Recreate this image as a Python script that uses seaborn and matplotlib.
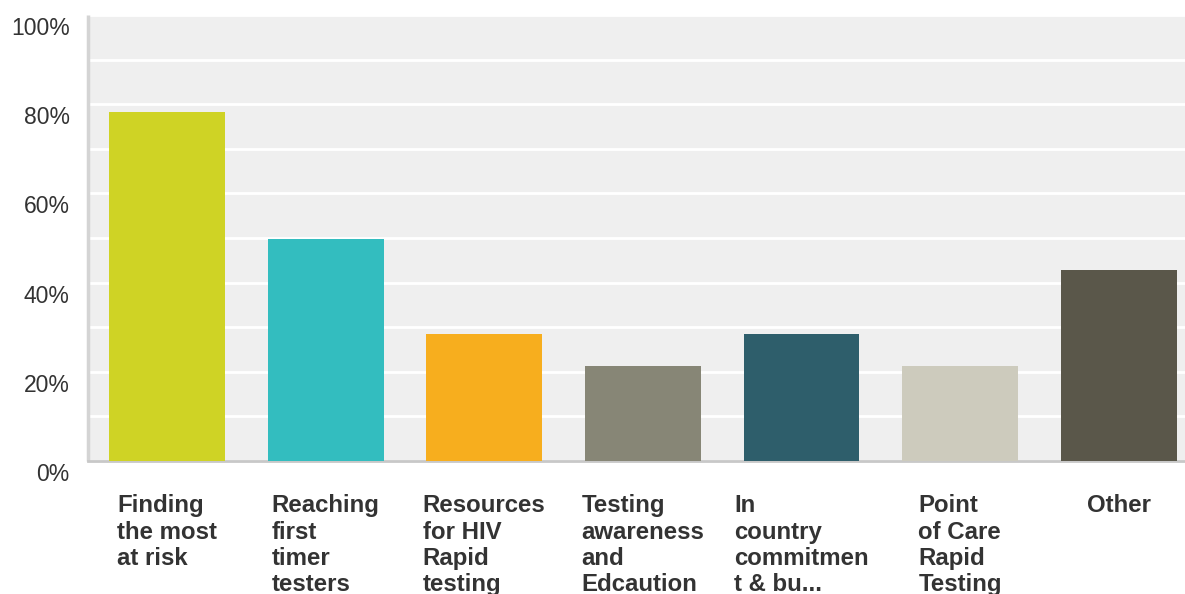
import matplotlib
matplotlib.use("Agg")
import matplotlib.pyplot as plt
import matplotlib.transforms as mtransforms
from matplotlib.ticker import MultipleLocator, FixedLocator
import seaborn as sns
import pandas as pd

categories = [
    "Finding\nthe most\nat risk",
    "Reaching\nfirst\ntimer\ntesters",
    "Resources\nfor HIV\nRapid\ntesting",
    "Testing\nawareness\nand\nEdcaution",
    "In\ncountry\ncommitmen\nt & bu...",
    "Point\nof Care\nRapid\nTesting",
    "Other",
]
values = [78.3, 49.7, 28.4, 21.3, 28.4, 21.3, 42.8]
colors = ["#cfd325", "#33bdbf", "#f7ae1e", "#878676", "#2e5e6b", "#cdcbbd", "#5a574a"]
y_ticks = [0, 20, 40, 60, 80, 100]
y_tick_labels = ["0%", "20%", "40%", "60%", "80%", "100%"]

df = pd.DataFrame({"cat": categories, "val": values})

sns.set_theme(style="white")
plt.rcParams["font.family"] = ["Liberation Sans", "DejaVu Sans"]

W, H = 1185, 594
fig = plt.figure(figsize=(W / 100, H / 100), dpi=100)
left_px, right_px, top_px, bottom_px = 87.7, 1198.0, 15.0, 461.0
ax = fig.add_axes([left_px / W, 1 - bottom_px / H, (right_px - left_px) / W, (bottom_px - top_px) / H])
ax.set_facecolor("#efefef")

sns.barplot(data=df, x="cat", y="val", hue="cat", palette=colors, legend=False,
            width=0.73, saturation=1, linewidth=0, ax=ax, zorder=3)

ax.set_xlim(-0.5, len(categories) - 0.5)
ax.set_ylim(0, 100)
ax.yaxis.set_major_locator(FixedLocator(y_ticks))
ax.set_yticklabels(y_tick_labels)
ax.yaxis.set_minor_locator(MultipleLocator(10))
ax.grid(True, which="both", axis="y", color="white", linewidth=2, zorder=1)
ax.set_axisbelow(True)
ax.set_xlabel("")
ax.set_ylabel("")

for s in ["top", "right"]:
    ax.spines[s].set_visible(False)
ax.spines["left"].set_color("#d4d4d4")
ax.spines["left"].set_linewidth(2.5)
ax.spines["left"].set_capstyle("butt")
ax.spines["bottom"].set_color("#c8c8c8")
ax.spines["bottom"].set_linewidth(2)

ax.tick_params(axis="both", which="both", length=0)
ax.tick_params(axis="y", labelsize=16.5, labelcolor="#333333", pad=13)
ax.tick_params(axis="x", labelsize=17.3, labelcolor="#333333", pad=24)

ydown = mtransforms.ScaledTranslation(0, -0.11, fig.dpi_scale_trans)
for lab in ax.get_yticklabels():
    lab.set_transform(lab.get_transform() + ydown)

for lab in ax.get_xticklabels():
    lab.set_fontweight("bold")
    lab.set_horizontalalignment("center")
    lab.set_multialignment("left")
    lab.set_linespacing(1.18)

fig.savefig("out.png", dpi=100, facecolor="white")
